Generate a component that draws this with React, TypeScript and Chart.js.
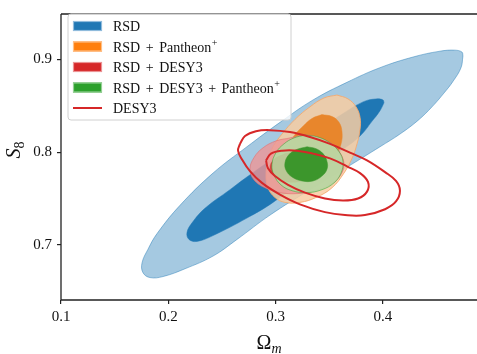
import React, { useEffect, useRef } from "react";
import { Chart, registerables } from "chart.js";

Chart.register(...registerables);

// ---- axes ----
const X_TICKS = [0.1, 0.2, 0.3, 0.4];
const Y_TICKS = [0.7, 0.8, 0.9];
const X_MIN = 0.1;
const X_MAX = 0.4877;
const Y_MIN = 0.6405;
const Y_MAX = 0.949;

// ---- contours (Omega_m, S8) ----
const RSD_OUTER: [number, number][] = [
  [0.4746, 0.9037], [0.4728, 0.8911], [0.4653, 0.8763], [0.4569, 0.8637], [0.4458, 0.8489],
  [0.4327, 0.8342], [0.4159, 0.8195], [0.3973, 0.8058], [0.3665, 0.7837], [0.3321, 0.7595],
  [0.2948, 0.7321], [0.264, 0.7058], [0.2417, 0.6879], [0.2156, 0.6742], [0.1951, 0.6658],
  [0.1829, 0.6647], [0.1764, 0.67], [0.1755, 0.6805], [0.1811, 0.6953], [0.1895, 0.7121],
  [0.2109, 0.7426], [0.2417, 0.7774], [0.2733, 0.8058], [0.3041, 0.8321], [0.3349, 0.8563],
  [0.3665, 0.8753], [0.3973, 0.8911], [0.4281, 0.9026], [0.4532, 0.9089], [0.4672, 0.91],
  [0.4737, 0.9079],
];
const RSD_INNER: [number, number][] = [
  [0.401, 0.8532], [0.3973, 0.8447], [0.3898, 0.8332], [0.3787, 0.8174], [0.36, 0.8005],
  [0.3321, 0.7763], [0.2976, 0.7458], [0.2733, 0.7289], [0.2417, 0.71], [0.2267, 0.7037],
  [0.2193, 0.7058], [0.2174, 0.7132], [0.2221, 0.7237], [0.2342, 0.7395], [0.2575, 0.7595],
  [0.2733, 0.7732], [0.2994, 0.7942], [0.3321, 0.8184], [0.36, 0.8395], [0.3815, 0.8542],
  [0.3936, 0.8574], [0.4001, 0.8563],
];
const PAN_OUTER: [number, number][] = [
  [0.3572, 0.8616], [0.3675, 0.8574], [0.3749, 0.8489], [0.3787, 0.8374], [0.3787, 0.8247],
  [0.3759, 0.8089], [0.3712, 0.7932], [0.3637, 0.7774], [0.3526, 0.7616], [0.3377, 0.7511],
  [0.3227, 0.7458], [0.3088, 0.7458], [0.2994, 0.7511], [0.2929, 0.7616], [0.2911, 0.7753],
  [0.2929, 0.79], [0.2976, 0.8058], [0.306, 0.8195], [0.3181, 0.8353], [0.3321, 0.8489],
  [0.3451, 0.8584],
];
const PAN_INNER: [number, number][] = [
  [0.3432, 0.8405], [0.3526, 0.8384], [0.3591, 0.8321], [0.3619, 0.8216], [0.361, 0.8089],
  [0.3563, 0.7963], [0.3488, 0.7847], [0.3377, 0.7774], [0.3246, 0.7753], [0.3153, 0.7816],
  [0.3116, 0.7932], [0.3125, 0.8058], [0.3171, 0.8174], [0.3255, 0.8279], [0.3339, 0.8363],
];
const DES_OUTER: [number, number][] = [
  [0.3134, 0.8153], [0.3274, 0.8184], [0.3414, 0.8153], [0.3535, 0.8079], [0.361, 0.7974],
  [0.3637, 0.7858], [0.36, 0.7742], [0.3507, 0.7647], [0.3367, 0.7584], [0.3209, 0.7553],
  [0.3041, 0.7563], [0.2901, 0.7616], [0.2799, 0.77], [0.2761, 0.7816], [0.2799, 0.7942],
  [0.2883, 0.8047], [0.3004, 0.8121],
];
const DES_INNER: [number, number][] = [
  [0.3088, 0.7984], [0.3227, 0.7995], [0.3339, 0.7953], [0.3395, 0.7858], [0.3358, 0.7753],
  [0.3246, 0.7689], [0.3106, 0.7679], [0.3004, 0.7732], [0.2948, 0.7826], [0.2985, 0.7921],
];
const ALL_OUTER: [number, number][] = [
  [0.3274, 0.8184], [0.3395, 0.8163], [0.3507, 0.81], [0.3591, 0.8005], [0.3628, 0.79],
  [0.361, 0.7774], [0.3544, 0.7668], [0.3432, 0.7595], [0.3293, 0.7563], [0.3153, 0.7584],
  [0.305, 0.7647], [0.2985, 0.7753], [0.2966, 0.7868], [0.3004, 0.7995], [0.3078, 0.8089],
  [0.3171, 0.8153],
];
const ALL_INNER: [number, number][] = [
  [0.3293, 0.8058], [0.3377, 0.8037], [0.3442, 0.7984], [0.3479, 0.79], [0.3479, 0.7816],
  [0.3432, 0.7742], [0.3349, 0.7689], [0.3246, 0.7689], [0.3153, 0.7732], [0.3097, 0.7805],
  [0.3088, 0.7889], [0.3125, 0.7974], [0.319, 0.8026],
];
const DESY3_OUTER: [number, number][] = [
  [0.2668, 0.8089], [0.2715, 0.8174], [0.2817, 0.8226], [0.2948, 0.8237], [0.3134, 0.8216],
  [0.3321, 0.8163], [0.3507, 0.8089], [0.3693, 0.7995], [0.3852, 0.7911], [0.402, 0.7784],
  [0.4122, 0.7689], [0.4159, 0.7584], [0.4122, 0.7468], [0.402, 0.7384], [0.3833, 0.7321],
  [0.3647, 0.7321], [0.346, 0.7353], [0.3227, 0.7437], [0.3041, 0.7542], [0.2873, 0.7668],
  [0.2761, 0.7795], [0.2687, 0.7921], [0.265, 0.8016],
];
const DESY3_INNER: [number, number][] = [
  [0.2911, 0.7911], [0.2957, 0.7984], [0.306, 0.8016], [0.3199, 0.8016], [0.3349, 0.7984],
  [0.3507, 0.7932], [0.3665, 0.7847], [0.3787, 0.7774], [0.3861, 0.7679], [0.3852, 0.7574],
  [0.3768, 0.75], [0.3628, 0.7479], [0.346, 0.75], [0.3274, 0.7563], [0.3116, 0.7647],
  [0.2994, 0.7742], [0.2929, 0.7826],
];

const LEGEND_LABELS = [
  "RSD",
  "RSD + Pantheon⁺",
  "RSD + DESY3",
  "RSD + DESY3 + Pantheon⁺",
  "DESY3",
];

const SERIF = '"Liberation Serif", "DejaVu Serif", serif';
const INK = "#111";

const toPts = (arr: [number, number][]) => {
  const p = arr.map(([x, y]) => ({ x, y }));
  p.push({ ...p[0] });
  return p;
};

function filled(pts: [number, number][], fill: string, edge: string, order: number, bw = 1) {
  return {
    data: toPts(pts),
    showLine: true,
    fill: "shape",
    backgroundColor: fill,
    borderColor: edge,
    borderWidth: bw,
    pointRadius: 0,
    tension: 0.4,
    order,
  };
}

function outline(pts: [number, number][], color: string, order: number) {
  return {
    data: toPts(pts),
    showLine: true,
    fill: false,
    borderColor: color,
    borderWidth: 2,
    pointRadius: 0,
    tension: 0.4,
    order,
  };
}

const decorPlugin = {
  id: "decor",
  afterDraw(chart: any) {
    const ctx = chart.ctx as CanvasRenderingContext2D;
    const a = chart.chartArea;
    ctx.save();
    // spines
    ctx.strokeStyle = "#222";
    ctx.lineWidth = 1.3;
    ctx.beginPath();
    ctx.moveTo(a.left, a.top);
    ctx.lineTo(a.right, a.top);
    ctx.moveTo(a.left, a.top);
    ctx.lineTo(a.left, a.bottom);
    ctx.lineTo(a.right, a.bottom);
    ctx.stroke();

    // legend
    const lx = 68, ly = 14, lw = 223, lh = 106, r = 3;
    ctx.beginPath();
    ctx.moveTo(lx + r, ly);
    ctx.lineTo(lx + lw - r, ly);
    ctx.quadraticCurveTo(lx + lw, ly, lx + lw, ly + r);
    ctx.lineTo(lx + lw, ly + lh - r);
    ctx.quadraticCurveTo(lx + lw, ly + lh, lx + lw - r, ly + lh);
    ctx.lineTo(lx + r, ly + lh);
    ctx.quadraticCurveTo(lx, ly + lh, lx, ly + lh - r);
    ctx.lineTo(lx, ly + r);
    ctx.quadraticCurveTo(lx, ly, lx + r, ly);
    ctx.closePath();
    ctx.fillStyle = "rgba(255,255,255,0.8)";
    ctx.fill();
    ctx.strokeStyle = "#d0d0d0";
    ctx.lineWidth = 1;
    ctx.stroke();

    const patchFill = ["#1f77b4", "#ff7f0e", "#d62728", "#2ca02c"];
    const patchEdge = ["#8fbbdc", "#ffbf86", "#eb9394", "#95cf95"];
    const rowY = [26, 46.5, 67, 87.5, 108];
    LEGEND_LABELS.forEach((label, i) => {
      const cy = rowY[i];
      if (i < 4) {
        ctx.fillStyle = patchFill[i];
        ctx.fillRect(73, cy - 5, 29, 10);
        ctx.strokeStyle = patchEdge[i];
        ctx.lineWidth = 1.2;
        ctx.strokeRect(73.5, cy - 4.5, 28, 9);
      } else {
        ctx.strokeStyle = "#d62728";
        ctx.lineWidth = 2;
        ctx.beginPath();
        ctx.moveTo(73, cy);
        ctx.lineTo(102, cy);
        ctx.stroke();
      }
      // text with math-like spacing around "+" and superscript "⁺"
      ctx.fillStyle = INK;
      ctx.textBaseline = "alphabetic";
      ctx.textAlign = "left";
      let x = 113;
      const base = cy + 5;
      const parts = label.split(" + ");
      parts.forEach((p, j) => {
        if (j > 0) {
          ctx.font = `14px ${SERIF}`;
          x += 5.5;
          ctx.fillText("+", x, base);
          x += ctx.measureText("+").width + 5.5;
        }
        let word = p;
        let sup = false;
        if (word.endsWith("⁺")) {
          word = word.slice(0, -1);
          sup = true;
        }
        ctx.font = `14px ${SERIF}`;
        ctx.fillText(word, x, base);
        x += ctx.measureText(word).width;
        if (sup) {
          ctx.font = `10px ${SERIF}`;
          ctx.fillText("+", x + 0.5, base - 6);
        }
      });
    });

    // y title S_8
    ctx.save();
    ctx.translate(20, 150);
    ctx.rotate(-Math.PI / 2);
    ctx.fillStyle = INK;
    ctx.font = `italic 20px ${SERIF}`;
    const wS = ctx.measureText("S").width;
    ctx.font = `14px ${SERIF}`;
    const w8 = ctx.measureText("8").width;
    const x0 = -(wS + w8) / 2;
    ctx.font = `italic 20px ${SERIF}`;
    ctx.fillText("S", x0, 0);
    ctx.font = `14px ${SERIF}`;
    ctx.fillText("8", x0 + wS, 4);
    ctx.restore();

    // x title Omega_m
    ctx.fillStyle = INK;
    ctx.font = `20px ${SERIF}`;
    const wO = ctx.measureText("Ω").width;
    ctx.font = `italic 14px ${SERIF}`;
    const wm = ctx.measureText("m").width;
    const ox = 269 - (wO + wm) / 2;
    ctx.font = `20px ${SERIF}`;
    ctx.fillText("Ω", ox, 349);
    ctx.font = `italic 14px ${SERIF}`;
    ctx.fillText("m", ox + wO, 353);
    ctx.restore();
  },
};

export default function App() {
  const ref = useRef<HTMLCanvasElement>(null);
  useEffect(() => {
    if (!ref.current) return;
    const chart = new Chart(ref.current, {
      type: "scatter",
      data: {
        datasets: [
          filled(RSD_OUTER, "rgba(31,119,180,0.4)", "rgba(31,119,180,0.45)", 9),
          filled(RSD_INNER, "rgba(31,119,180,1)", "rgba(31,119,180,1)", 8, 0.5),
          filled(PAN_OUTER, "rgba(248,205,162,0.85)", "rgba(245,170,110,0.9)", 7),
          filled(PAN_INNER, "rgba(232,134,44,1)", "rgba(232,134,44,1)", 6, 0.5),
          filled(DES_OUTER, "rgba(238,150,150,0.8)", "rgba(225,110,110,0.6)", 5),
          filled(DES_INNER, "rgba(214,39,40,0.75)", "rgba(214,39,40,0.6)", 4, 0.5),
          filled(ALL_OUTER, "rgba(180,222,165,0.85)", "rgba(44,160,44,0.5)", 3),
          filled(ALL_INNER, "rgba(60,150,44,1)", "rgba(60,150,44,1)", 2, 0.5),
          outline(DESY3_OUTER, "#d62728", 1),
          outline(DESY3_INNER, "#d62728", 0),
        ] as any,
      },
      options: {
        responsive: false,
        animation: false,
        events: [],
        layout: { padding: { top: 7, left: 0, right: 0, bottom: 0 } },
        plugins: { legend: { display: false }, tooltip: { enabled: false } },
        scales: {
          x: {
            type: "linear",
            min: X_MIN,
            max: X_MAX,
            afterFit: (s: any) => {
              s.height = 54;
            },
            afterBuildTicks: (s: any) => {
              s.ticks = X_TICKS.map((v) => ({ value: v }));
            },
            ticks: {
              autoSkip: false,
              maxRotation: 0,
              padding: 4,
              color: INK,
              font: { family: SERIF, size: 15 },
              callback: (v: any) => Number(v).toFixed(1),
            },
            grid: { drawOnChartArea: false, drawTicks: true, tickLength: 4, color: "#222", lineWidth: 1.2 },
            border: { display: false },
          },
          y: {
            type: "linear",
            min: Y_MIN,
            max: Y_MAX,
            afterFit: (s: any) => {
              s.width = 61;
            },
            afterBuildTicks: (s: any) => {
              s.ticks = Y_TICKS.map((v) => ({ value: v }));
            },
            ticks: {
              autoSkip: false,
              padding: 5,
              color: INK,
              font: { family: SERIF, size: 15 },
              callback: (v: any) => Number(v).toFixed(1),
            },
            grid: { drawOnChartArea: false, drawTicks: true, tickLength: 4, color: "#222", lineWidth: 1.2 },
            border: { display: false },
          },
        },
      } as any,
      plugins: [decorPlugin],
    });
    return () => chart.destroy();
  }, []);
  return (
    <div style={{ position: "absolute", left: 0, top: 0, width: 477, height: 354, background: "#fff" }}>
      <canvas ref={ref} width={477} height={354} style={{ display: "block", width: 477, height: 354 }} />
    </div>
  );
}
